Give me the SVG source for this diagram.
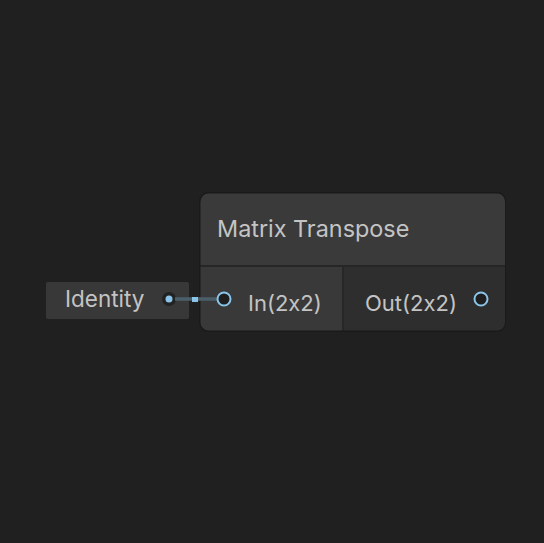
<svg xmlns="http://www.w3.org/2000/svg" width="544" height="543" viewBox="0 0 544 543">
<style>
.lbl{font-family:"Inter","Noto Sans","Liberation Sans",sans-serif;fill:#c4c4c4;font-feature-settings:"calt" 0;font-variant-ligatures:none}
.port{fill:#1f1f1f;stroke:#8ac4e8;stroke-width:2}
</style>
<rect width="544" height="543" fill="#202020"/>
<g id="identity">
<rect x="46" y="282" width="143" height="37" rx="2" fill="#383838"/>
<text x="65" y="307" class="lbl" font-size="22.5">Identity</text>
<circle cx="169" cy="299" r="7" fill="#222222"/>
<circle cx="169" cy="299" r="3.5" fill="#8ac4e8"/>
</g>
<g id="matrix-transpose">
<rect x="199" y="192" width="307" height="140" rx="9" fill="#1a1a1a"/>
<path d="M209,193.5 H497 A8,8 0 0 1 505,201.5 V265 H200.5 V201.5 A8,8 0 0 1 209,193.5 Z" fill="#3a3a3a"/>
<rect x="200.5" y="265" width="304.5" height="2" fill="#262626"/>
<path d="M200.5,267 H342 V330.5 H209 A8,8 0 0 1 200.5,322.5 Z" fill="#393939"/>
<path d="M344,267 H505 V322.5 A8,8 0 0 1 497,330.5 H344 Z" fill="#2e2e2e"/>
<rect x="342" y="267" width="2" height="63.5" fill="#272727"/>
<text x="217" y="237" class="lbl" font-size="23.4">Matrix Transpose</text>
<text x="248" y="311" class="lbl" font-size="22">In(2x2)</text>
<text x="365" y="311" class="lbl" font-size="22">Out(2x2)</text>
</g>
<g id="connectors">
<line x1="175" y1="299" x2="218" y2="299" stroke="#4b5f6b" stroke-width="3.5"/>
<rect x="192" y="297" width="6" height="5" fill="#8ac4e8"/>
</g>
<g id="ports">
<circle cx="224" cy="299" r="6.5" class="port"/>
<circle cx="481" cy="299" r="6.5" class="port"/>
</g>
</svg>
